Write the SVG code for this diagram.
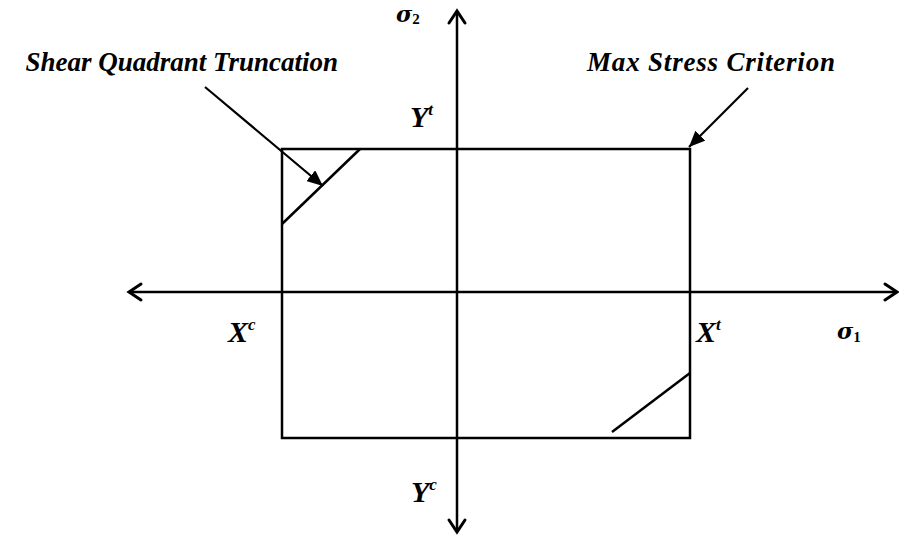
<svg xmlns="http://www.w3.org/2000/svg" width="899" height="535" viewBox="0 0 899 535">
<style>
.ln{stroke:#000;stroke-width:2.5;fill:none}
.ax{stroke:#000;stroke-width:2.5;fill:none}
.hd{stroke:#000;stroke-width:3;fill:none;stroke-linecap:round;stroke-linejoin:miter}
.co{stroke:#000;stroke-width:2.2;fill:none}
.lbl{font-family:"Liberation Serif","Times New Roman",serif;font-style:italic;font-weight:bold;fill:#000}
.big{font-size:27px}
.var{font-size:30px}
.sup{font-size:17px}
.sig{font-family:"DejaVu Serif","Liberation Serif",serif;font-style:italic;font-weight:bold;font-size:22px;fill:#000}
.sub{font-family:"Liberation Serif",serif;font-size:15px;font-style:normal;font-weight:bold}
</style>
<defs>
<marker id="fh" markerUnits="userSpaceOnUse" markerWidth="18" markerHeight="14" refX="16" refY="7" orient="auto">
<path d="M0,0 L16,7 L0,14 Z" fill="#000"/>
</marker>
</defs>
<rect width="899" height="535" fill="#fff"/>
<g id="axes">
<line class="ax" x1="129" y1="292" x2="897" y2="292"/>
<line class="ax" x1="457" y1="11" x2="457" y2="532"/>
<polyline class="hd" points="141,284 129,292 141,300"/>
<polyline class="hd" points="885,284 897,292 885,300"/>
<polyline class="hd" points="449,23 457,11 465,23"/>
<polyline class="hd" points="449,520 457,532 465,520"/>
</g>
<g id="max-stress-rect">
<rect class="ln" x="282" y="149" width="408" height="289"/>
</g>
<g id="truncation-top-left">
<line class="ln" x1="360" y1="149" x2="282" y2="224"/>
</g>
<g id="truncation-bottom-right">
<line class="ln" x1="612" y1="432" x2="690" y2="373"/>
</g>
<g id="connectors">
<line class="co" x1="205" y1="87" x2="323" y2="186" marker-end="url(#fh)"/>
<line class="co" x1="748" y1="88" x2="689" y2="147" marker-end="url(#fh)"/>
</g>
<g id="label-shear">
<text class="lbl big" x="338" y="71" text-anchor="end">Shear Quadrant Truncation</text>
</g>
<g id="label-max">
<text class="lbl big" x="587" y="71" textLength="248" lengthAdjust="spacing">Max Stress Criterion</text>
</g>
<g id="label-sigma2">
<text class="sig" x="396" y="22">σ<tspan class="sub" dy="2">2</tspan></text>
</g>
<g id="label-sigma1">
<text class="sig" x="837" y="339">σ<tspan class="sub" dy="3">1</tspan></text>
</g>
<g id="label-Yt">
<text class="lbl var" x="410" y="127">Y<tspan class="sup" dy="-12">t</tspan></text>
</g>
<g id="label-Yc">
<text class="lbl var" x="411" y="502">Y<tspan class="sup" dy="-12">c</tspan></text>
</g>
<g id="label-Xc">
<text class="lbl var" x="228" y="342">X<tspan class="sup" dy="-12">c</tspan></text>
</g>
<g id="label-Xt">
<text class="lbl var" x="696" y="342">X<tspan class="sup" dy="-12">t</tspan></text>
</g>
</svg>
